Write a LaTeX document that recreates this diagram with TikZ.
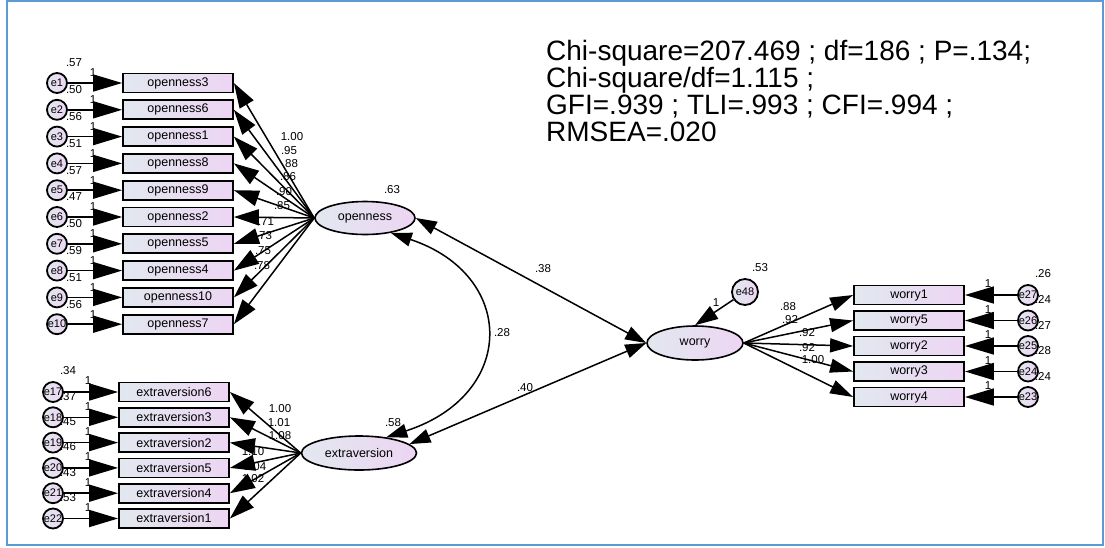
\documentclass[tikz,border=0pt]{standalone}
\usepackage{fontspec}
\setmainfont{Liberation Sans}
\usepackage{xcolor}
\usepackage{tikz}
\usetikzlibrary{shapes,arrows.meta,positioning}

\definecolor{boxleft}{HTML}{E2E8EF}
\definecolor{boxright}{HTML}{EDD5F3}
\definecolor{framecol}{HTML}{5B9BD5}

\begin{document}
\begin{tikzpicture}[x=1pt, y=-1pt]
        % Define styles
        \tikzstyle{item} = [rectangle, draw, line width=1.8pt, left color=boxleft, right color=boxright, minimum width=110pt, minimum height=19pt, inner sep=0pt, font=\fontsize{12.5}{14}\selectfont]
        \tikzstyle{err} = [circle, draw, line width=1.8pt, left color=boxleft, right color=boxright, minimum size=20pt, inner sep=0pt, font=\fontsize{11}{12}\selectfont]
        \tikzstyle{latent} = [ellipse, draw, line width=1.6pt, left color=boxleft, right color=boxright, inner sep=0pt, font=\fontsize{12.5}{14}\selectfont]
        \tikzstyle{val} = [inner sep=0pt, font=\fontsize{11.5}{12}\selectfont]
        \tikzstyle{errarrow} = [line width=1.6pt, -{Triangle[length=29pt,width=17pt]}]
        \tikzstyle{loadarrow} = [line width=1.5pt, -{Triangle[length=25pt,width=16pt]}]
        \tikzstyle{cov} = [line width=1.5pt, {Triangle[length=21pt,width=14pt]}-{Triangle[length=21pt,width=14pt]}]
        \useasboundingbox (0,0) rectangle (1105,547);
        \draw [framecol, line width=1.5pt] (7,1) rectangle (1103,545);

        % Fit indices
        \node [align=left, anchor=north west, inner sep=0pt, font=\fontsize{28}{27}\selectfont] (fit) at (546,40)
          {Chi-square=207.469 ; df=186 ; P=.134;\\Chi-square/df=1.115 ;\\GFI=.939 ; TLI=.993 ; CFI=.994 ;\\RMSEA=.020};

        % Latent variables
        \node [latent, minimum width=100pt, minimum height=33pt] (open) at (365,218) {openness};
        \node [latent, minimum width=115pt, minimum height=34pt] (extra) at (359,453) {extraversion};
        \node [latent, minimum width=96pt, minimum height=34pt] (worry) at (695,343) {worry};
        \node [val] (vopen) at (392,190) {.63};
        \node [val] (vextra) at (393,423) {.58};

        % Openness indicators
        \foreach \i/\name/\ev/\ld/\lx/\ly in {1/openness3/.57/1.00/292/137, 2/openness6/.50/.95/289/151,
            3/openness1/.56/.88/290/164, 4/openness8/.51/.86/288/177, 5/openness9/.57/.90/284/192,
            6/openness2/.47/.85/282/206, 7/openness5/.50/.71/266/222, 8/openness4/.59/.73/264/236,
            9/openness10/.51/.75/263/251, 10/openness7/.56/.78/262/266} {
          \pgfmathsetmacro\yy{83+(\i-1)*26.8}
          \node [item] (o\i) at (178,\yy) {\name};
          \node [err] (e\i) at (57,\yy) {e\i};
          \node [val] (ve\i) at (74,\yy-20) {\ev};
          \node [val] (fo\i) at (93,\yy-10) {1};
          \node [val] (lo\i) at (\lx,\ly) {\ld};
          \draw [errarrow] (e\i) -- (o\i);
          \draw [loadarrow] (open.west) -- (o\i.east);
        }

        % Extraversion indicators
        \foreach \i/\name/\en/\ev/\ld/\lx/\ly in {1/extraversion6/17/.34/1.00/280/409, 2/extraversion3/18/.37/1.01/279/423,
            3/extraversion2/19/.45/1.08/280/436, 4/extraversion5/20/.46/1.10/253/452,
            5/extraversion4/21/.43/1.04/255/467, 6/extraversion1/22/.53/1.02/253/479} {
          \pgfmathsetmacro\yy{392+(\i-1)*25.3}
          \node [item] (x\i) at (174,\yy) {\name};
          \node [err] (e\en) at (53,\yy) {e\en};
          \node [val] (ve\en) at (68,\yy-21) {\ev};
          \node [val] (fx\i) at (88,\yy-11) {1};
          \node [val] (lx\i) at (\lx,\ly) {\ld};
          \draw [errarrow] (e\en) -- (x\i);
          \draw [loadarrow] (extra.west) -- (x\i.east);
        }

        % Worry indicators
        \foreach \i/\name/\en/\ev/\ld/\lx/\ly in {1/worry1/27/.26/.88/788/307, 2/worry5/26/.24/.92/790/320,
            3/worry2/25/.27/.92/807/333, 4/worry3/24/.28/.92/807/348, 5/worry4/23/.24/1.00/813/360} {
          \pgfmathsetmacro\yy{295+(\i-1)*25.5}
          \node [item] (w\i) at (909,\yy) {\name};
          \node [err] (e\en) at (1028,\yy) {e\en};
          \node [val] (ve\en) at (1043,\yy-21) {\ev};
          \node [val] (fw\i) at (988,\yy-11) {1};
          \node [val] (lw\i) at (\lx,\ly) {\ld};
          \draw [errarrow] (e\en) -- (w\i);
          \draw [loadarrow, -{Triangle[length=23pt,width=14pt]}] (worry.east) -- (w\i.west);
        }

        % Disturbance of worry
        \node [err, minimum size=26pt] (e48) at (745,292) {e48};
        \node [val] (ve48) at (760,268) {.53};
        \node [val] (fe48) at (716,303) {1};
        \draw [loadarrow, -{Triangle[length=23pt,width=15pt]}] (e48) -- (worry.north);

        % Structural paths
        \node [val] (c1) at (543,269) {.38};
        \node [val] (c2) at (502,333) {.28};
        \node [val] (c3) at (525,388) {.40};
        \draw [cov] (open.east) -- (worry.west);
        \draw [cov] (extra.10) -- (worry.west);
        \draw [cov] (open.-30) .. controls (517,275) and (517,395) .. (extra.30);
    \end{tikzpicture}
\end{document}
